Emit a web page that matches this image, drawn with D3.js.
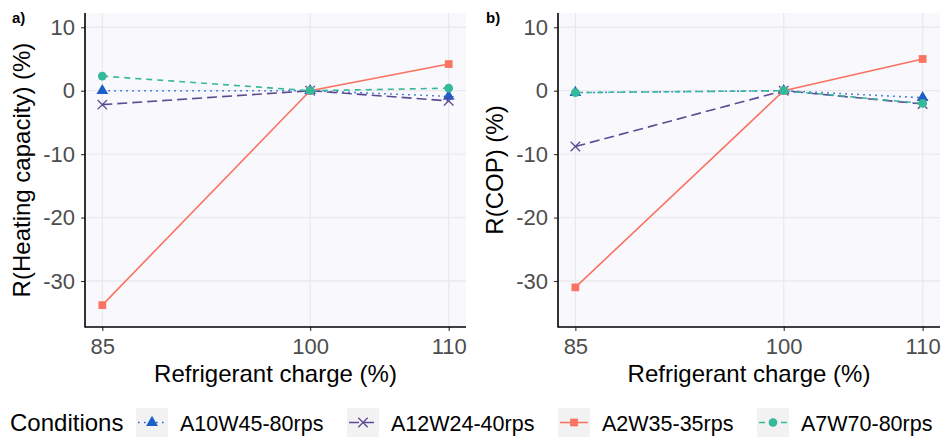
<!DOCTYPE html>
<html>
<head>
<meta charset="utf-8">
<script src="https://cdn.jsdelivr.net/npm/d3@7"></script>
<style>
  body { margin: 0; background: #fff; }
  text { font-family: "Liberation Sans", Arial, sans-serif; }
</style>
</head>
<body>
<svg id="chart" width="943" height="438"></svg>
<script>
// data
const charges = [85, 100, 110];
const conditions = ["A10W45-80rps", "A12W24-40rps", "A2W35-35rps", "A7W70-80rps"];
const heatA10W45 = [0.0, 0.0, -0.9];
const heatA12W24 = [-2.2, 0.0, -1.6];
const heatA2W35 = [-33.8, 0.0, 4.2];
const heatA7W70 = [2.3, 0.0, 0.4];
const copA10W45 = [-0.3, 0.0, -1.1];
const copA12W24 = [-8.8, 0.0, -2.1];
const copA2W35 = [-31.0, 0.0, 5.0];
const copA7W70 = [-0.3, 0.0, -2.0];
const yTicks = [-30, -20, -10, 0, 10];
const xTicks = [85, 100, 110];

const colors = {"A10W45-80rps": "#1c5fc9", "A12W24-40rps": "#5c4a93", "A2W35-35rps": "#fa7262", "A7W70-80rps": "#35b99b"};
const dashes = {"A10W45-80rps": "1.5,4.5", "A12W24-40rps": "10,5", "A2W35-35rps": null, "A7W70-80rps": "6,5"};
const shapes = {"A10W45-80rps": d3.symbolTriangle, "A12W24-40rps": d3.symbolTimes, "A2W35-35rps": d3.symbolSquare, "A7W70-80rps": d3.symbolCircle};

const svg = d3.select("#chart");
const plotTop = 13, plotBottom = 327;

const y = d3.scaleLinear().domain([-37.25, 12.25]).range([plotBottom, plotTop]);

function panel(left, right, label, labelX, ytitle, series) {
  const x = d3.scaleLinear().domain([83.75, 111.25]).range([left, right]);
  const g = svg.append("g");

  g.append("rect").attr("x", left).attr("y", plotTop)
    .attr("width", right - left).attr("height", plotBottom - plotTop)
    .attr("fill", "#f9f9fd");

  // grid
  g.selectAll(".gy").data(yTicks).join("line")
    .attr("x1", left).attr("x2", right)
    .attr("y1", d => y(d)).attr("y2", d => y(d))
    .attr("stroke", "#eaeaee").attr("stroke-width", 1.3);
  g.selectAll(".gx").data(xTicks).join("line")
    .attr("x1", d => x(d)).attr("x2", d => x(d))
    .attr("y1", plotTop).attr("y2", plotBottom)
    .attr("stroke", "#eaeaee").attr("stroke-width", 1.3);

  // axes (hyphen minus like the original)
  const fmt = d => String(d);
  const ay = g.append("g").attr("transform", `translate(${left},0)`)
    .call(d3.axisLeft(y).tickValues(yTicks).tickFormat(fmt).tickSize(4).tickPadding(6));
  const ax = g.append("g").attr("transform", `translate(0,${plotBottom})`)
    .call(d3.axisBottom(x).tickValues(xTicks).tickFormat(fmt).tickSize(4).tickPadding(7));
  [ay, ax].forEach(a => {
    a.select(".domain").remove();
    a.selectAll(".tick line").attr("stroke", "#333").attr("stroke-width", 1.1);
    a.selectAll(".tick text").attr("fill", "#4d4d4d").style("font-size", "22px")
      .style("font-family", "Liberation Sans, Arial, sans-serif");
  });
  g.append("line").attr("x1", left).attr("x2", left).attr("y1", plotTop).attr("y2", plotBottom + 0.5)
    .attr("stroke", "#000").attr("stroke-width", 1.6);
  g.append("line").attr("x1", left).attr("x2", right).attr("y1", plotBottom).attr("y2", plotBottom)
    .attr("stroke", "#000").attr("stroke-width", 1.6);

  // lines + points
  const line = d3.line().x((d, i) => x(charges[i])).y(d => y(d));
  conditions.forEach((c, k) => {
    const vals = series[k];
    g.append("path").attr("d", line(vals))
      .attr("fill", "none").attr("stroke", colors[c]).attr("stroke-width", 1.6)
      .attr("stroke-dasharray", dashes[c]);
    g.selectAll(null).data(vals).join("path")
      .attr("transform", (d, i) => `translate(${x(charges[i])},${y(d)})`)
      .attr("d", d3.symbol().type(shapes[c]).size(c == "A12W24-40rps" ? 60 : 60))
      .attr("fill", c == "A12W24-40rps" ? "none" : colors[c])
      .attr("stroke", c == "A12W24-40rps" ? colors[c] : "none")
      .attr("stroke-width", 1.3);
  });

  g.append("text").attr("x", labelX).attr("y", 23)
    .text(label).style("font-size", "15px").style("font-weight", "bold");

  g.append("text").attr("x", (left + right) / 2).attr("y", 382)
    .attr("text-anchor", "middle").style("font-size", "24px").attr("fill", "#000")
    .text("Refrigerant charge (%)");

  g.append("text")
    .attr("transform", `translate(${left - 63},${(plotTop + plotBottom) / 2}) rotate(-90)`)
    .attr("text-anchor", "middle").attr("dy", "0.35em").style("font-size", "24px")
    .text(ytitle);
}

panel(85, 466, "a)", 12, "R(Heating capacity) (%)", [heatA10W45, heatA12W24, heatA2W35, heatA7W70]);
panel(558, 940, "b)", 486, "R(COP) (%)", [copA10W45, copA12W24, copA2W35, copA7W70]);

// legend
const leg = svg.append("g");
leg.append("text").attr("x", 10).attr("y", 431).style("font-size", "24px").text("Conditions");
const keyX = [136, 347, 558, 757];
conditions.forEach((c, k) => {
  const kx = keyX[k];
  leg.append("rect").attr("x", kx).attr("y", 408).attr("width", 32).attr("height", 29)
    .attr("fill", "#f2f2f2");
  leg.append("line").attr("x1", kx + 2).attr("x2", kx + 30).attr("y1", 422.5).attr("y2", 422.5)
    .attr("stroke", colors[c]).attr("stroke-width", 1.6).attr("stroke-dasharray", dashes[c]);
  leg.append("path").attr("transform", `translate(${kx + 16},422.5)`)
    .attr("d", d3.symbol().type(shapes[c]).size(60))
    .attr("fill", c == "A12W24-40rps" ? "none" : colors[c])
    .attr("stroke", c == "A12W24-40rps" ? colors[c] : "none")
    .attr("stroke-width", 1.3);
  leg.append("text").attr("x", kx + 44).attr("y", 431).style("font-size", "21.5px").text(c);
});
</script>
</body>
</html>
